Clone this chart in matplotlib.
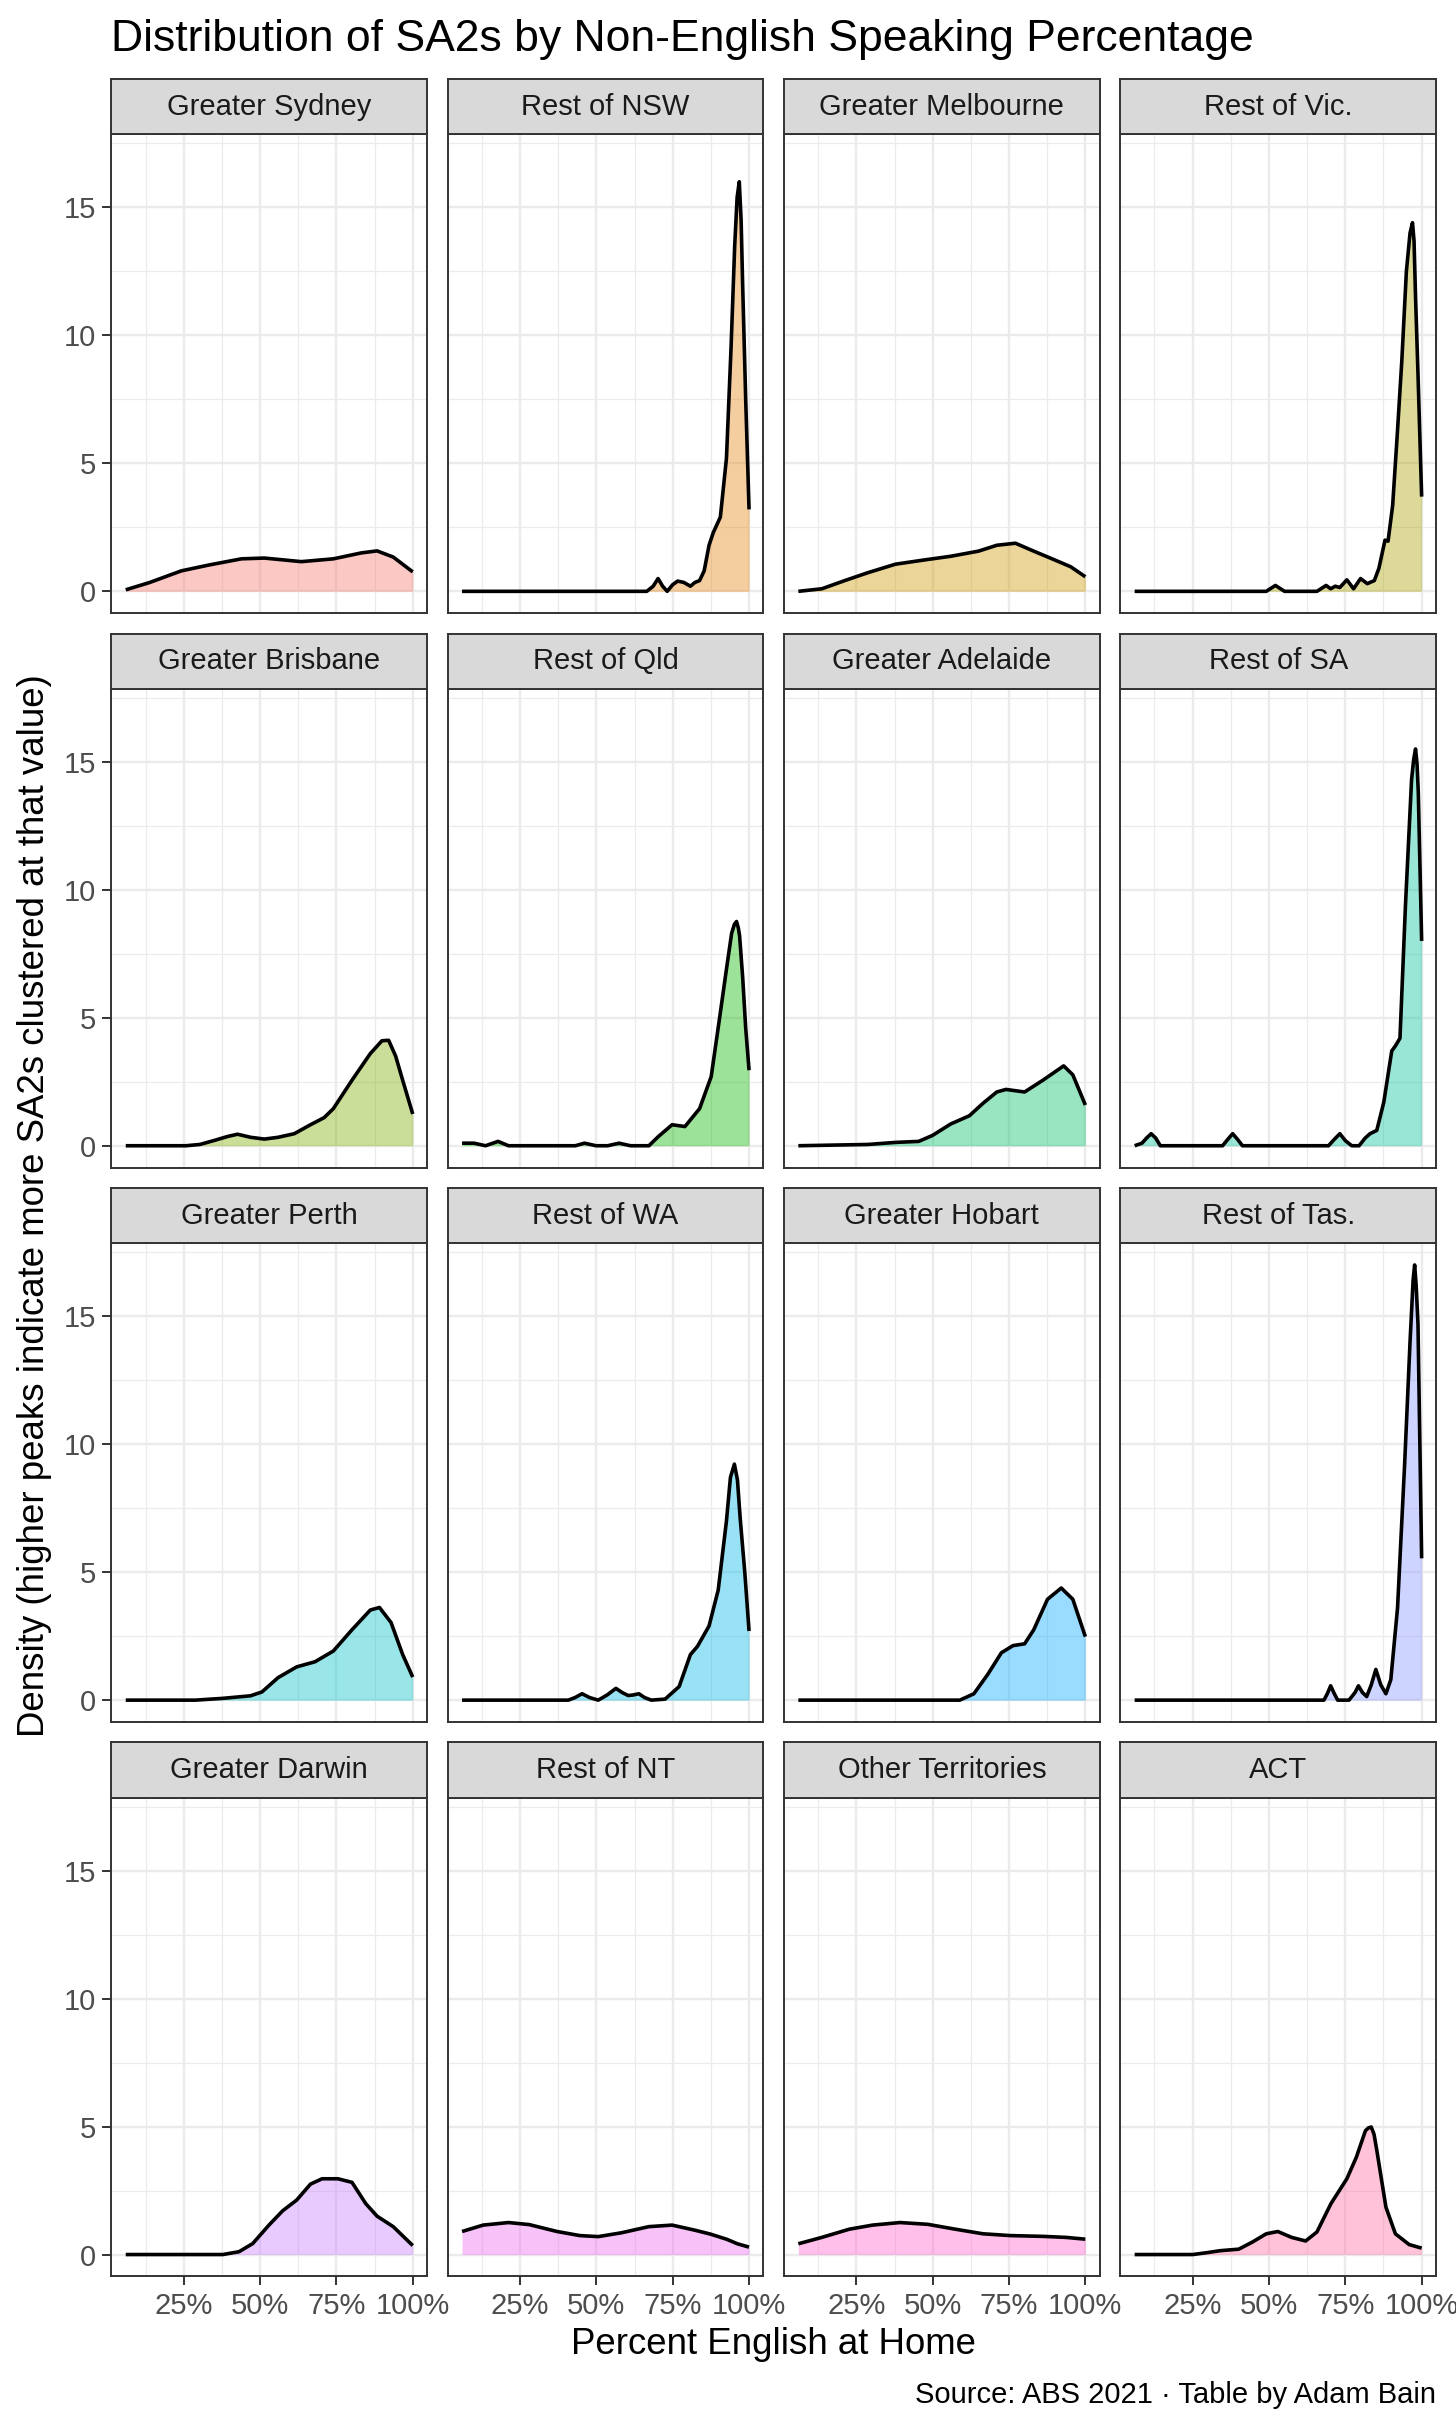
import matplotlib
matplotlib.use("Agg")
import matplotlib.pyplot as plt

plt.rcParams['font.family'] = ['Liberation Sans', 'DejaVu Sans']

# ---- data ----
regions = ["Greater Sydney", "Rest of NSW", "Greater Melbourne", "Rest of Vic.",
           "Greater Brisbane", "Rest of Qld", "Greater Adelaide", "Rest of SA",
           "Greater Perth", "Rest of WA", "Greater Hobart", "Rest of Tas.",
           "Greater Darwin", "Rest of NT", "Other Territories", "ACT"]

fill_colors = ["#F8766D", "#E68613", "#CD9600", "#ABA300", "#7CAE00", "#0CB702",
               "#00BE67", "#00C19A", "#00BFC4", "#00B8E7", "#00A9FF", "#8494FF",
               "#C77CFF", "#ED68ED", "#FF61CC", "#FF68A1"]

sydney_x = [6.0, 13.7, 24.2, 33.3, 43.9, 51.4, 63.5, 74.0, 83.1, 88.3, 93.6, 100.0]
sydney_y = [0.06, 0.34, 0.80, 1.03, 1.27, 1.30, 1.16, 1.27, 1.50, 1.58, 1.34, 0.76]

rest_nsw_x = [6.0, 66.5, 68.6, 70.2, 71.7, 73.2, 74.9, 76.6, 78.6, 80.8, 82.3, 83.8, 85.3,
              86.9, 88.3, 90.6, 92.6, 94.1, 95.3, 96.1, 96.8, 97.4, 97.9, 98.9, 100.0]
rest_nsw_y = [0, 0, 0.2, 0.5, 0.2, 0.0, 0.25, 0.4, 0.35, 0.2, 0.35, 0.42, 0.8,
              1.8, 2.3, 2.9, 5.2, 9.5, 13.5, 15.4, 16.0, 14.5, 12.0, 7.5, 3.2]

melbourne_x = [6.0, 13.7, 21.2, 28.8, 37.8, 46.9, 55.9, 65.0, 71.0, 77.1, 83.1, 89.1, 95.2, 100.0]
melbourne_y = [0.0, 0.1, 0.42, 0.73, 1.06, 1.22, 1.37, 1.57, 1.8, 1.88, 1.57, 1.27, 0.96, 0.57]

rest_vic_x = [6.0, 49.1, 52.1, 55.1, 65.7, 68.7, 70.2, 71.7, 73.2, 75.5, 77.7, 80.0, 82.2,
              84.5, 86.0, 88.0, 89.0, 90.5, 92.0, 93.5, 95.0, 96.2, 97.0, 97.5, 98.0, 98.8, 100.0]
rest_vic_y = [0, 0, 0.23, 0, 0, 0.23, 0.1, 0.2, 0.15, 0.45, 0.1, 0.5, 0.3,
              0.42, 0.9, 2.0, 1.96, 3.35, 6.1, 9.0, 12.5, 14.0, 14.4, 13.7, 11.5, 8.5, 3.7]

brisbane_x = [6.0, 25.7, 30.3, 34.8, 39.3, 42.6, 46.9, 51.4, 55.9, 61.2, 66.5, 71.0, 74.0,
              80.1, 86.1, 89.9, 92.1, 94.4, 96.7, 100.0]
brisbane_y = [0, 0, 0.05, 0.2, 0.36, 0.45, 0.33, 0.26, 0.33, 0.47, 0.82, 1.1, 1.45,
              2.56, 3.6, 4.1, 4.12, 3.5, 2.56, 1.24]

rest_qld_x = [6.0, 9.9, 13.7, 17.8, 21.2, 43.1, 46.1, 49.9, 53.7, 57.4, 61.2, 67.2, 70.3,
              74.8, 79.0, 83.8, 87.6, 90.6, 92.6, 94.3, 95.2, 95.9, 96.5, 96.9, 97.9, 98.9, 100.0]
rest_qld_y = [0.1, 0.1, 0.0, 0.17, 0.0, 0.0, 0.1, 0.0, 0.0, 0.1, 0.0, 0.0, 0.36,
              0.82, 0.75, 1.45, 2.7, 5.2, 6.9, 8.3, 8.65, 8.76, 8.5, 8.2, 6.6, 4.6, 2.95]

adelaide_x = [6.0, 28.8, 37.8, 45.4, 49.9, 55.9, 62.0, 66.5, 71.0, 74.0, 80.1, 86.1, 92.9, 95.9, 100.0]
adelaide_y = [0, 0.05, 0.13, 0.17, 0.4, 0.85, 1.17, 1.66, 2.1, 2.2, 2.1, 2.56, 3.12, 2.77, 1.59]

rest_sa_x = [6.0, 8.4, 9.9, 11.4, 12.9, 14.4, 34.8, 36.5, 38.1, 39.7, 41.3, 69.5, 71.4, 73.2,
             75.0, 77.1, 79.5, 81.5, 83.1, 85.3, 87.6, 90.2, 91.4, 92.9, 94.7, 96.7, 97.4,
             98.0, 98.5, 98.9, 100.0]
rest_sa_y = [0.0, 0.1, 0.3, 0.47, 0.3, 0.0, 0.0, 0.25, 0.47, 0.25, 0.0, 0.0, 0.25, 0.47,
             0.2, 0.0, 0.0, 0.3, 0.47, 0.6, 1.7, 3.7, 3.9, 4.2, 9.4, 14.3, 15.1,
             15.5, 14.9, 13.8, 8.0]

perth_x = [6.0, 28.8, 37.8, 46.9, 50.6, 55.9, 62.0, 68.0, 74.0, 80.1, 86.1, 89.1, 92.9, 96.7, 100.0]
perth_y = [0, 0, 0.07, 0.17, 0.32, 0.88, 1.3, 1.5, 1.92, 2.75, 3.52, 3.62, 3.03, 1.78, 0.9]

rest_wa_x = [6.0, 40.8, 43.0, 45.3, 47.8, 50.6, 53.5, 56.4, 58.4, 60.4, 62.0, 63.9, 65.8,
             68.0, 72.5, 77.1, 80.8, 83.1, 86.9, 89.9, 92.6, 93.9, 95.2, 96.2, 97.1, 98.6, 100.0]
rest_wa_y = [0, 0, 0.1, 0.25, 0.1, 0.0, 0.2, 0.46, 0.3, 0.18, 0.2, 0.25, 0.1,
             0.0, 0.04, 0.53, 1.78, 2.1, 2.9, 4.3, 7.0, 8.7, 9.22, 8.6, 7.1, 5.0, 2.7]

hobart_x = [6.0, 58.9, 63.5, 68.0, 72.5, 76.3, 80.1, 83.1, 87.6, 92.1, 95.9, 100.0]
hobart_y = [0, 0, 0.25, 1.0, 1.85, 2.13, 2.2, 2.75, 3.94, 4.38, 3.94, 2.48]

rest_tas_x = [6.0, 68.0, 69.1, 70.2, 71.4, 72.5, 76.2, 78.2, 79.3, 80.6, 82.0, 83.5, 85.0,
              86.6, 88.3, 89.9, 92.1, 94.4, 96.2, 97.2, 97.7, 98.2, 98.8, 100.0]
rest_tas_y = [0, 0, 0.25, 0.56, 0.25, 0, 0, 0.3, 0.56, 0.3, 0.14, 0.6, 1.2,
              0.6, 0.25, 0.8, 3.6, 9.15, 14.0, 16.4, 17.0, 16.2, 14.7, 5.54]

darwin_x = [6.0, 37.8, 43.1, 47.6, 52.9, 57.4, 62.0, 66.5, 70.3, 75.5, 80.1, 84.6, 88.3, 93.6, 100.0]
darwin_y = [0, 0, 0.11, 0.43, 1.15, 1.71, 2.13, 2.75, 2.96, 2.96, 2.82, 1.99, 1.5, 1.09, 0.35]

rest_nt_x = [6.0, 12.9, 21.2, 28.0, 37.1, 44.6, 50.6, 58.2, 67.2, 74.8, 82.3, 87.3, 92.6, 96.2, 100.0]
rest_nt_y = [0.9, 1.15, 1.25, 1.17, 0.9, 0.74, 0.7, 0.85, 1.09, 1.15, 0.95, 0.8, 0.6, 0.42, 0.29]

other_terr_x = [6.0, 13.7, 22.7, 30.3, 39.3, 48.4, 57.4, 66.5, 75.5, 86.1, 93.6, 100.0]
other_terr_y = [0.42, 0.67, 0.99, 1.15, 1.25, 1.18, 0.99, 0.81, 0.74, 0.71, 0.67, 0.6]

act_x = [6.0, 25.0, 29.5, 34.0, 40.1, 44.6, 49.1, 52.9, 57.4, 62.0, 65.7, 70.3, 75.5,
         78.6, 81.6, 82.6, 83.5, 84.4, 85.3, 88.3, 91.4, 95.9, 100.0]
act_y = [0, 0, 0.07, 0.15, 0.21, 0.49, 0.81, 0.9, 0.67, 0.53, 0.88, 1.99, 2.96,
         3.8, 4.84, 4.95, 4.98, 4.7, 4.08, 1.85, 0.81, 0.39, 0.25]

curves_x = [sydney_x, rest_nsw_x, melbourne_x, rest_vic_x, brisbane_x, rest_qld_x,
            adelaide_x, rest_sa_x, perth_x, rest_wa_x, hobart_x, rest_tas_x,
            darwin_x, rest_nt_x, other_terr_x, act_x]
curves_y = [sydney_y, rest_nsw_y, melbourne_y, rest_vic_y, brisbane_y, rest_qld_y,
            adelaide_y, rest_sa_y, perth_y, rest_wa_y, hobart_y, rest_tas_y,
            darwin_y, rest_nt_y, other_terr_y, act_y]

x_ticks = [25, 50, 75, 100]
x_tick_labels = ["25%", "50%", "75%", "100%"]
y_ticks = [0, 5, 10, 15]

# ---- layout (pixels of the 1456x2427 output) ----
W, H = 1456, 2427
col_left = [111.4, 447.7, 784.0, 1120.3]
row_top = [134.4, 688.8, 1243.2, 1797.6]
panel_w, panel_h, strip_h = 315.7, 478.7, 55.3

# shared scales, expanded 5% like ggplot
x_lo, x_hi = 6.0, 100.0
x_pad = 0.05 * (x_hi - x_lo)
y_max = max(max(v) for v in curves_y)
xlim = (x_lo - x_pad, x_hi + x_pad)
ylim = (-0.05 * y_max, 1.05 * y_max)

fig = plt.figure(figsize=(W / 100, H / 100), dpi=100)
fig.patch.set_facecolor("white")

border = "#333333"
for i, name in enumerate(regions):
    r, c = divmod(i, 4)
    left = col_left[c] / W
    bottom = 1 - (row_top[r] + panel_h) / H
    ax = fig.add_axes([left, bottom, panel_w / W, panel_h / H])
    ax.set_xlim(*xlim)
    ax.set_ylim(*ylim)

    x = curves_x[i]
    y = curves_y[i]
    ax.fill_between(x, 0, y, color=fill_colors[i], alpha=0.4, lw=0, zorder=2)
    ax.plot(x, y, color="black", lw=2.6, solid_capstyle="butt", solid_joinstyle="round", zorder=3)

    ax.set_xticks(x_ticks)
    ax.set_xticks([12.5, 37.5, 62.5, 87.5], minor=True)
    ax.set_yticks(y_ticks)
    ax.set_yticks([2.5, 7.5, 12.5, 17.5], minor=True)
    ax.set_axisbelow(True)
    ax.grid(which="major", color="#EBEBEB", lw=1.7)
    ax.grid(which="minor", color="#EBEBEB", lw=0.9)
    for s in ax.spines.values():
        s.set_color(border)
        s.set_linewidth(1.4)
        s.set_zorder(5)

    ax.tick_params(which="minor", length=0)
    ax.tick_params(which="major", length=6.8, width=1.4, color=border,
                   labelsize=21, labelcolor="#4D4D4D")
    ax.tick_params(axis="y", pad=4.3)
    ax.tick_params(axis="x", pad=4.5)
    if c == 0:
        ax.set_yticklabels([str(v) for v in y_ticks])
    else:
        ax.tick_params(axis="y", length=0, labelleft=False)
    if r == 3:
        ax.set_xticklabels(x_tick_labels)
    else:
        ax.tick_params(axis="x", length=0, labelbottom=False)

    # facet strip
    sax = fig.add_axes([left, 1 - row_top[r] / H, panel_w / W, strip_h / H])
    sax.set_facecolor("#D9D9D9")
    sax.set_xticks([])
    sax.set_yticks([])
    for s in sax.spines.values():
        s.set_color(border)
        s.set_linewidth(1.4)
    sax.text(0.5, 0.5, name, transform=sax.transAxes, ha="center", va="center",
             fontsize=21, color="#1A1A1A")

fig.text(111.4 / W, 1 - 51.4 / H, "Distribution of SA2s by Non-English Speaking Percentage",
         fontsize=32, ha="left", va="baseline", color="black")
fig.text((col_left[0] + col_left[3] + panel_w) / 2 / W, 1 - 2345 / H, "Percent English at Home",
         fontsize=26.4, ha="center", va="center")
fig.text(35 / W, 1 - 1206 / H,
         "Density (higher peaks indicate more SA2s clustered at that value)",
         fontsize=26.4, rotation=90, ha="center", va="center")
fig.text((col_left[3] + panel_w) / W, 1 - 2395 / H,
         "Source: ABS 2021 \u00b7 Table by Adam Bain",
         fontsize=21, ha="right", va="center")

fig.savefig("out.png", dpi=100)
